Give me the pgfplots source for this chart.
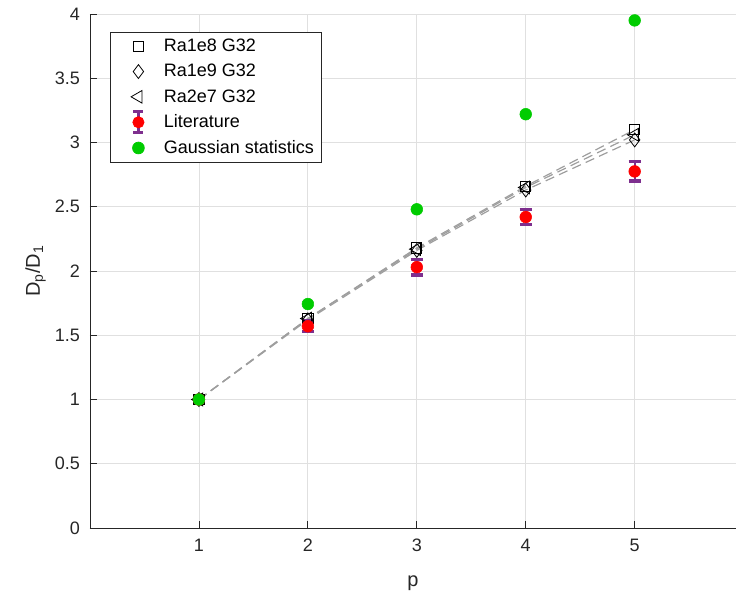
\documentclass[border=0pt]{standalone}
\usepackage{pgfplots}
\pgfplotsset{compat=1.18}
\usepackage{fontspec}
\setmainfont{Liberation Sans}
\definecolor{lgreen}{rgb}{0,0.8,0}
\definecolor{mpurple}{rgb}{0.494,0.184,0.556}
\definecolor{gridc}{rgb}{0.88,0.88,0.88}
\definecolor{axc}{rgb}{0.15,0.15,0.15}
\definecolor{dashc}{rgb}{0.62,0.62,0.62}
\pgfplotstableread{
p a b c
1 1.00 1.00 1.00
2 1.63 1.62 1.63
3 2.18 2.16 2.17
4 2.66 2.63 2.65
5 3.10 3.02 3.06
}\sims
\pgfplotstableread{
p y e
1 1.00 0.00
2 1.57 0.04
3 2.03 0.06
4 2.42 0.06
5 2.775 0.075
}\lit
\pgfplotstableread{
p y
1 1.00
2 1.743
3 2.48
4 3.22
5 3.95
}\gauss
\begin{document}
\begin{tikzpicture}
\begin{axis}[
  scale only axis, width=484.5pt, height=385.5pt,
  xmin=0, xmax=5.93, ymin=0, ymax=4,
  xtick={1,2,3,4,5}, ytick={0,0.5,...,4},
  axis x line*=bottom, axis y line*=left,
  grid=major, major grid style={gridc, line width=0.6pt},
  tick align=inside, major tick length=5pt,
  tick style={axc, line width=0.6pt},
  axis line style={axc, line width=0.6pt},
  ticklabel style={font=\fontsize{13.5}{16}\selectfont, text=axc},
  xticklabel style={yshift=-5pt},
  yticklabel style={xshift=-4pt},
  /pgf/number format/assume math mode=true,
  xlabel={p}, ylabel={D\textsubscript{p}/D\textsubscript{1}},
  label style={font=\fontsize{15}{18}\selectfont, text=axc},
  xlabel style={yshift=-11pt},
  legend style={at={(0.031,0.965)}, anchor=north west, draw=axc, line width=0.6pt,
    font=\fontsize{13.5}{16}\selectfont, row sep=4pt, inner xsep=4pt, inner ysep=3pt,
    cells={anchor=west}},
  legend cell align=left,
  legend image code/.code={\path[draw=none,fill=none] (0pt,0pt) -- (34pt,0pt);
    \draw[#1] plot[only marks] coordinates {(17pt,0pt)};},
]
\addplot[only marks, mark=square, mark size=3.8pt, mark options={black, line width=0.6pt}] table[x=p,y=a]{\sims};
\addlegendentry{Ra1e8 G32}
\addplot[only marks, mark=diamond, mark size=5.2pt, mark options={black, line width=0.6pt}] table[x=p,y=b]{\sims};
\addlegendentry{Ra1e9 G32}
\addplot[only marks, mark=triangle, mark size=5.5pt, mark options={black, line width=0.6pt, rotate=90}] table[x=p,y=c]{\sims};
\addlegendentry{Ra2e7 G32}
\addplot[dashc, dash pattern=on 7pt off 4pt, line width=0.9pt, forget plot] table[x=p,y=a]{\sims};
\addplot[dashc, dash pattern=on 7pt off 4pt, line width=0.9pt, forget plot] table[x=p,y=b]{\sims};
\addplot[dashc, dash pattern=on 7pt off 4pt, line width=0.9pt, forget plot] table[x=p,y=c]{\sims};
\addplot[only marks, mark=*, mark size=4.4pt, mark options={draw=red, fill=red},
  legend image code/.code={\path[draw=none,fill=none] (0pt,-4pt) -- (34pt,4pt);
    \draw[overlay, mpurple, line width=2.2pt] (17pt,-7.8pt) -- (17pt,7.8pt);
    \draw[overlay, mpurple, line width=2.2pt] (13.2pt,-7.8pt) -- (20.8pt,-7.8pt);
    \draw[overlay, mpurple, line width=2.2pt] (13.2pt,7.8pt) -- (20.8pt,7.8pt);
    \fill[overlay, red] (17pt,0pt) circle (4.2pt);},
  error bars/.cd, y dir=both, y explicit,
  error bar style={mpurple, line width=1.5pt},
  error mark options={mpurple, line width=2.5pt, mark size=4.6pt, rotate=90}]
  table[x=p,y=y,y error=e]{\lit};
\addlegendentry{Literature}
\addplot[only marks, mark=*, mark size=4.4pt, mark options={draw=lgreen, fill=lgreen}] table[x=p,y=y]{\gauss};
\addlegendentry{Gaussian statistics}
\end{axis}
\pgfresetboundingbox
\useasboundingbox (-67.5pt,-50.25pt) rectangle (484.5pt,396pt);
\end{tikzpicture}
\end{document}
